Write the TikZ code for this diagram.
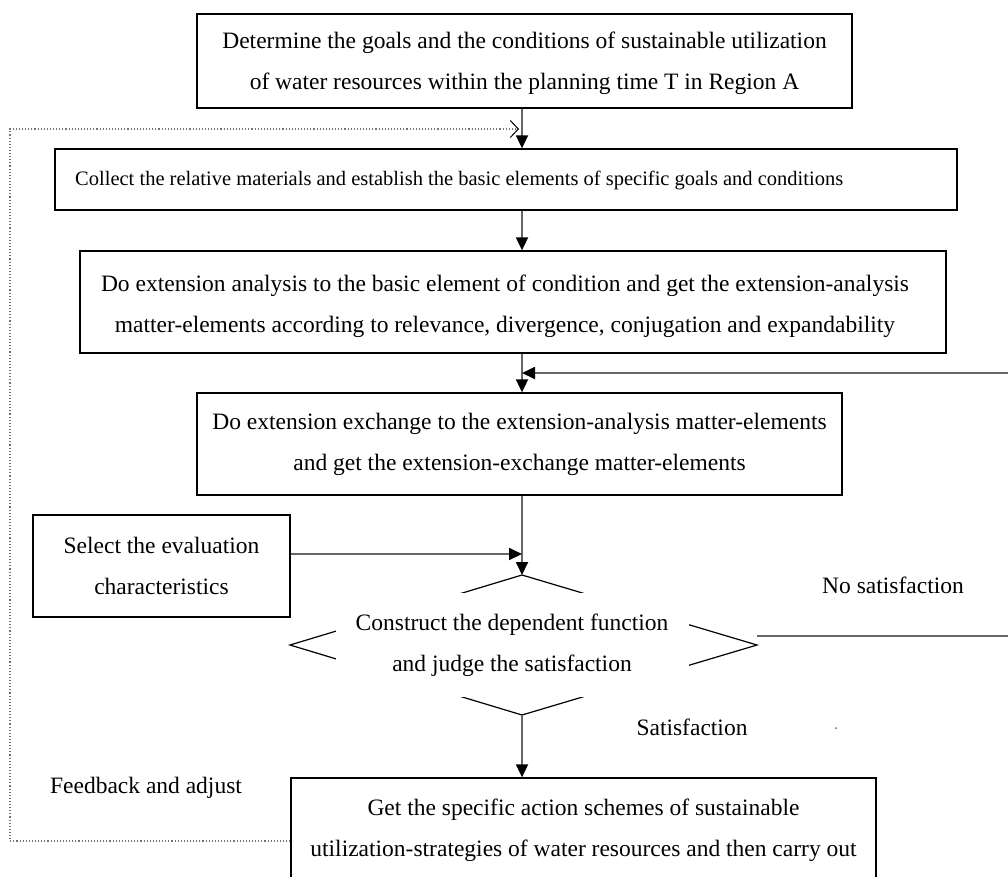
\documentclass[tikz,border=0pt]{standalone}
\usepackage{fontspec}
\setmainfont{Liberation Serif}
\usetikzlibrary{arrows.meta}
\begin{document}
\begin{tikzpicture}[x=1pt,y=-1pt,
  box/.style={draw=black, line width=1.3pt, inner sep=0pt},
  txt/.style={align=center, inner sep=0pt, font=\fontsize{23.5}{41}\selectfont},
  conn/.style={draw=black!60, line width=1.8pt, -{Triangle[length=13pt,width=12pt,color=black,fill=black]}},
  fb/.style={draw=black!55, line width=1.1pt, dotted, -{Straight Barb[length=8pt,width=17pt,line width=1pt,color=black]}},
  lbl/.style={inner sep=0pt, font=\fontsize{23.5}{28}\selectfont},
  dia/.style={draw=black, line width=1.2pt}
]
\useasboundingbox (0,0) rectangle (1008,876);
% column and corner coordinates
\coordinate (dt) at (522,575);
\coordinate (dl) at (290,645);
\coordinate (dr) at (757,645);
\coordinate (db) at (522,715);
\coordinate (nsR) at (1014,636);
\coordinate (nsT) at (1014,373);
\coordinate (fbT) at (10,129);
\coordinate (fbB) at (10,841);

% boxes
\node[box, minimum width=655pt, minimum height=94pt] (b1) at (524.5,61) {};
\node[txt] (b1t) at (524.5,63) {Determine the goals and the conditions of sustainable utilization\\of water resources within the planning time T in Region A};

\node[box, minimum width=902pt, minimum height=61pt] (b2) at (506,179.5) {};
\node[txt, font=\fontsize{20.5}{30}\selectfont, anchor=west] (b2t) at (75,180) {Collect the relative materials and establish the basic elements of specific goals and conditions};

\node[box, minimum width=866pt, minimum height=102pt] (b3) at (513,302) {};
\node[txt] (b3t) at (505,306) {Do extension analysis to the basic element of condition and get the extension-analysis\\matter-elements according to relevance, divergence, conjugation and expandability};

\node[box, minimum width=645pt, minimum height=102pt] (b4) at (519.5,444) {};
\node[txt] (b4t) at (519.5,444) {Do extension exchange to the extension-analysis matter-elements\\and get the extension-exchange matter-elements};

\node[box, minimum width=257pt, minimum height=102pt] (b5) at (161.5,566) {};
\node[txt] (b5t) at (161.5,566) {Select the evaluation\\characteristics};

\node[box, minimum width=585pt, minimum height=104pt] (b6) at (583.5,830) {};
\node[txt] (b6t) at (583.5,830) {Get the specific action schemes of sustainable\\utilization-strategies of water resources and then carry out};

% decision diamond (only its corners show)
\draw[dia] (dt) -- (dr) -- (db) -- (dl) -- cycle;
\node[fill=white, inner sep=0pt, minimum width=353pt, minimum height=104pt] (decbg) at (512.5,645) {};
\node[txt] (dec) at (512,645.5) {Construct the dependent function\\and judge the satisfaction};

% connectors
\draw[conn] (b1.south -| dt) -- (b2.north -| dt);
\draw[conn] (b2.south -| dt) -- (b3.north -| dt);
\draw[conn] (b3.south -| dt) -- (b4.north -| dt);
\draw[conn] (b4.south -| dt) -- (dt);
\draw[conn] (b5.east |- 0,554) -- (dt |- 0,554);
\draw[conn] (db) -- (b6.north -| db);
\draw[conn] (dr |- nsR) -- (nsR) -- (nsT) -- (nsT -| dt);
\draw[fb, shorten >=3pt] (b6.west |- fbB) -- (fbB) -- (fbT) -- (fbT -| dt);

% labels
\node[lbl] (nosat) at (893,585) {No satisfaction};
\node[lbl] (sat) at (692,727) {Satisfaction};
\node[lbl] (fbl) at (146,788) {Feedback and adjust};
\fill[black!60] (836,728) circle (1pt);
\end{tikzpicture}
\end{document}
